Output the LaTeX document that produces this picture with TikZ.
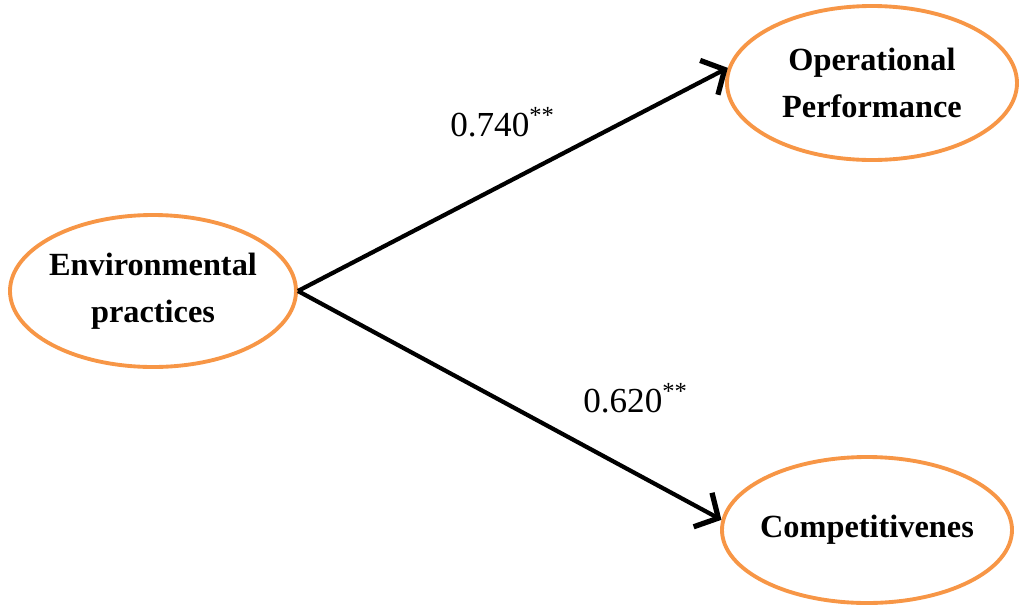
\documentclass[tikz,border=0pt]{standalone}
\usepackage{fontspec}
\setmainfont{Liberation Serif}
\usetikzlibrary{shapes.geometric,arrows.meta}
\definecolor{ovalorange}{RGB}{247,150,70}
\tikzset{
	oval/.style={ellipse, draw=ovalorange, line width=1.1pt, inner sep=-4pt, align=center, font=\fontsize{9.2}{13.5}\selectfont\bfseries},
	effect/.style={line width=1.2pt, -{Straight Barb[length=5pt, width=11pt, line width=1.5pt]}},
	coef/.style={font=\fontsize{10}{12}\selectfont}
}

\begin{document}
\begin{tikzpicture}
	%%%%% START %%%%%
	
	\useasboundingbox (0, 0) rectangle (10.24, 6.08);
	
	\node[oval, minimum width=2.86cm, minimum height=1.52cm] (env) at (1.53, 3.17) {Environmental\\practices};
	\node[oval, minimum width=2.90cm, minimum height=1.54cm] (oper) at (8.72, 5.25) {Operational\\Performance};
	\node[oval, minimum width=2.90cm, minimum height=1.46cm] (comp) at (8.67, 0.78) {Competitivenes};
	
	\draw[effect] (env.east) -- (oper.174);
	\draw[effect] (env.east) -- (comp.176);
	
	\node[coef] (b1) at (5.03, 4.86) {0.740\textsuperscript{**}};
	\node[coef] (b2) at (6.36, 2.10) {0.620\textsuperscript{**}};
	
	%%%%% END %%%%%
\end{tikzpicture}
\end{document}
